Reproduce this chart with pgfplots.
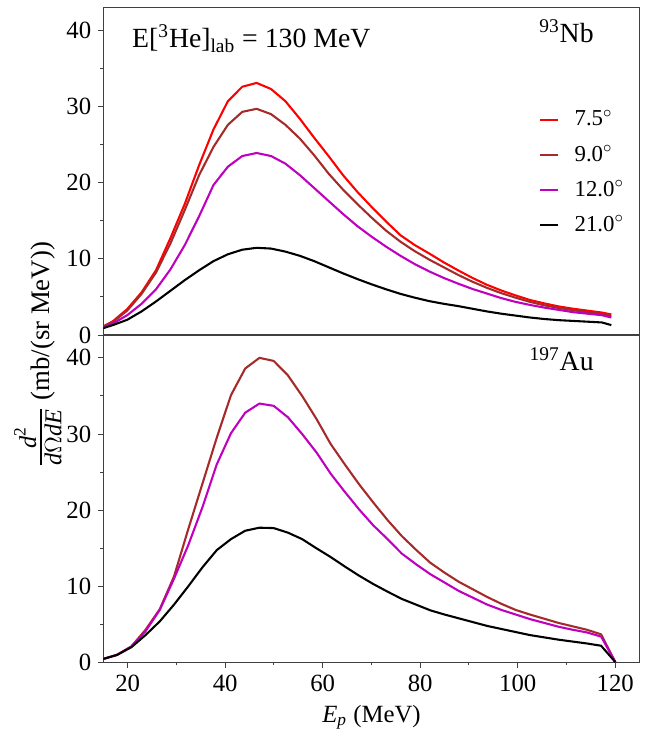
\documentclass[border=0pt]{standalone}
\usepackage{fontspec}
\setmainfont{Liberation Serif}
\usepackage{amsmath}
\usepackage{pgfplots}
\pgfplotsset{compat=1.18}
\usetikzlibrary{calc}

\definecolor{c75}{HTML}{FF0000}
\definecolor{c90}{HTML}{A52A2A}
\definecolor{c120}{HTML}{BF00BF}
\definecolor{c210}{HTML}{000000}
\definecolor{spine}{HTML}{404040}

\pgfplotsset{
  panel/.style={
    scale only axis, width=270.7pt, height=165.3pt,
    xmin=15, xmax=125, ymin=0, ymax=43,
    axis line style={spine, line width=0.65pt},
    tick align=outside, ytick pos=left, xtick pos=bottom,
    ytick={0,10,...,40}, minor ytick={5,15,25,35},
    major tick length=2.6pt, minor tick length=1.5pt,
    every tick/.style={spine, line width=0.5pt},
    tick label style={font=\fontsize{12.5}{15}\selectfont},
    /pgf/number format/assume math mode=true,
    every axis plot/.append style={line width=1.05pt, line join=round},
  },
}

\begin{document}
\begin{tikzpicture}
% top panel: 93Nb
\begin{axis}[panel, name=top, xtick=\empty,
  legend style={draw=none, fill=none, at={(0.8115,0.70)}, anchor=north west,
    font=\fontsize{11.5}{13}\selectfont, row sep=4.2pt, inner sep=0pt},
  legend cell align=left,
  legend image code/.code={\draw[#1, line width=1pt] (0pt,0pt) -- (9pt,0pt); \path (15pt,0pt);},
]
\addplot[c75] coordinates {(14.0,0.8)(16.95,1.8)(19.9,3.4)(22.85,5.6)(25.8,8.5)(28.75,12.7)(31.7,17.2)(34.65,22.3)(37.6,27.0)(40.55,30.7)(43.5,32.6)(46.45,33.1)(49.4,32.3)(52.35,30.7)(55.3,28.4)(58.25,25.9)(61.2,23.5)(64.15,21.0)(67.1,18.8)(70.05,16.8)(73.0,14.9)(75.95,13.1)(78.9,11.8)(81.85,10.7)(84.8,9.55)(87.75,8.5)(90.7,7.5)(93.65,6.6)(96.6,5.85)(99.55,5.2)(102.5,4.6)(105.45,4.15)(108.4,3.75)(111.35,3.45)(114.3,3.2)(117.25,2.95)(119.2,2.7)};
\addlegendentry{7.5$^{\circ}$}
\addplot[c90] coordinates {(14.0,0.8)(16.95,1.7)(19.9,3.2)(22.85,5.4)(25.8,8.2)(28.75,12.0)(31.7,16.4)(34.65,21.0)(37.6,24.7)(40.55,27.6)(43.5,29.3)(46.45,29.7)(49.4,29.0)(52.35,27.6)(55.3,25.8)(58.25,23.6)(61.2,21.2)(64.15,19.1)(67.1,17.2)(70.05,15.4)(73.0,13.7)(75.95,12.25)(78.9,11.0)(81.85,9.9)(84.8,8.9)(87.75,7.9)(90.7,7.0)(93.65,6.2)(96.6,5.5)(99.55,4.9)(102.5,4.35)(105.45,3.9)(108.4,3.55)(111.35,3.25)(114.3,3.0)(117.25,2.75)(119.2,2.5)};
\addlegendentry{9.0$^{\circ}$}
\addplot[c120] coordinates {(14.0,0.75)(16.95,1.5)(19.9,2.6)(22.85,4.1)(25.8,6.0)(28.75,8.6)(31.7,11.8)(34.65,15.6)(37.6,19.7)(40.55,22.1)(43.5,23.5)(46.45,23.9)(49.4,23.5)(52.35,22.5)(55.3,21.0)(58.25,19.3)(61.2,17.6)(64.15,15.9)(67.1,14.3)(70.05,12.9)(73.0,11.6)(75.95,10.4)(78.9,9.3)(81.85,8.35)(84.8,7.5)(87.75,6.75)(90.7,6.05)(93.65,5.45)(96.6,4.85)(99.55,4.35)(102.5,3.95)(105.45,3.6)(108.4,3.3)(111.35,3.0)(114.3,2.8)(117.25,2.6)(119.2,2.3)};
\addlegendentry{12.0$^{\circ}$}
\addplot[c210] coordinates {(14.0,0.7)(16.95,1.3)(19.9,2.0)(22.85,3.1)(25.8,4.4)(28.75,5.8)(31.7,7.2)(34.65,8.5)(37.6,9.7)(40.55,10.6)(43.5,11.2)(46.45,11.45)(49.4,11.35)(52.35,10.95)(55.3,10.4)(58.25,9.7)(61.2,8.9)(64.15,8.1)(67.1,7.35)(70.05,6.65)(73.0,6.0)(75.95,5.4)(78.9,4.9)(81.85,4.45)(84.8,4.1)(87.75,3.8)(90.7,3.45)(93.65,3.1)(96.6,2.8)(99.55,2.55)(102.5,2.3)(105.45,2.1)(108.4,1.95)(111.35,1.85)(114.3,1.75)(117.25,1.65)(119.2,1.3)};
\addlegendentry{21.0$^{\circ}$}
\node[anchor=base west, font=\fontsize{14}{16}\selectfont, inner sep=0pt] at (rel axis cs:0.053,0.877) {E[$^{\text{3}}$He]$_{\text{lab}}$ = 130 MeV};
\node[anchor=base east, font=\fontsize{14}{16}\selectfont, inner sep=0pt] at (rel axis cs:0.915,0.892) {$^{\text{93}}$Nb};
\end{axis}
% bottom panel: 197Au
\begin{axis}[panel, name=bot, at={(top.south west)}, anchor=north west,
  xtick={20,40,...,120}, minor xtick={30,50,...,110},
  xlabel={$\textit{E}_{\textit{p}}$ (MeV)},
  xlabel style={font=\fontsize{12.5}{15}\selectfont},
]
\addplot[c90] coordinates {(14.9,0.45)(17.82,1.0)(20.74,2.1)(23.66,4.3)(26.58,7.0)(29.5,11.3)(32.42,17.5)(35.34,23.5)(38.26,29.5)(41.18,35.1)(44.1,38.6)(47.02,40.0)(49.94,39.6)(52.86,37.7)(55.78,35.0)(58.7,32.0)(61.62,28.7)(64.54,26.0)(67.46,23.4)(70.38,21.0)(73.3,18.7)(76.22,16.6)(79.14,14.8)(82.06,13.1)(84.98,11.8)(87.9,10.6)(90.82,9.6)(93.74,8.6)(96.66,7.7)(99.58,6.9)(102.5,6.3)(105.42,5.75)(108.34,5.2)(111.26,4.75)(114.18,4.3)(117.1,3.7)(120.02,0.05)};
\addplot[c120] coordinates {(14.9,0.45)(17.82,1.0)(20.74,2.1)(23.66,4.1)(26.58,6.9)(29.5,11.0)(32.42,15.4)(35.34,20.4)(38.26,26.0)(41.18,30.1)(44.1,32.8)(47.02,34.0)(49.94,33.7)(52.86,32.2)(55.78,30.0)(58.7,27.6)(61.62,24.8)(64.54,22.4)(67.46,20.1)(70.38,18.0)(73.3,16.2)(76.22,14.3)(79.14,12.9)(82.06,11.6)(84.98,10.5)(87.9,9.4)(90.82,8.5)(93.74,7.6)(96.66,6.9)(99.58,6.3)(102.5,5.7)(105.42,5.2)(108.34,4.7)(111.26,4.3)(114.18,3.95)(117.1,3.4)(120.02,0.05)};
\addplot[c210] coordinates {(14.9,0.45)(17.82,1.0)(20.74,2.0)(23.66,3.6)(26.58,5.4)(29.5,7.6)(32.42,10.0)(35.34,12.5)(38.26,14.75)(41.18,16.2)(44.1,17.3)(47.02,17.7)(49.94,17.65)(52.86,17.05)(55.78,16.2)(58.7,15.0)(61.62,13.85)(64.54,12.6)(67.46,11.4)(70.38,10.3)(73.3,9.3)(76.22,8.35)(79.14,7.6)(82.06,6.85)(84.98,6.3)(87.9,5.8)(90.82,5.3)(93.74,4.8)(96.66,4.4)(99.58,4.0)(102.5,3.6)(105.42,3.3)(108.34,3.0)(111.26,2.75)(114.18,2.5)(117.1,2.2)(120.02,0.05)};
\node[anchor=base east, font=\fontsize{14}{16}\selectfont, inner sep=0pt] at (rel axis cs:0.915,0.891) {$^{\text{197}}$Au};
\end{axis}
% shared y label
\node[rotate=90, font=\fontsize{13.5}{16}\selectfont, inner sep=0pt] at ($(bot.north west)+(-33pt,-10pt)$)
  {{\fontsize{17.5}{20}\selectfont$\frac{\textit{d}^{\text{2}}}{\textit{d}\Omega \textit{dE}}$} (mb/(sr MeV))};
% canvas of the reference
\path ($(top.north west)+(-52.15pt,3.8pt)$) rectangle ($(bot.south east)+(4.15pt,-33.35pt)$);
\end{tikzpicture}
\end{document}
